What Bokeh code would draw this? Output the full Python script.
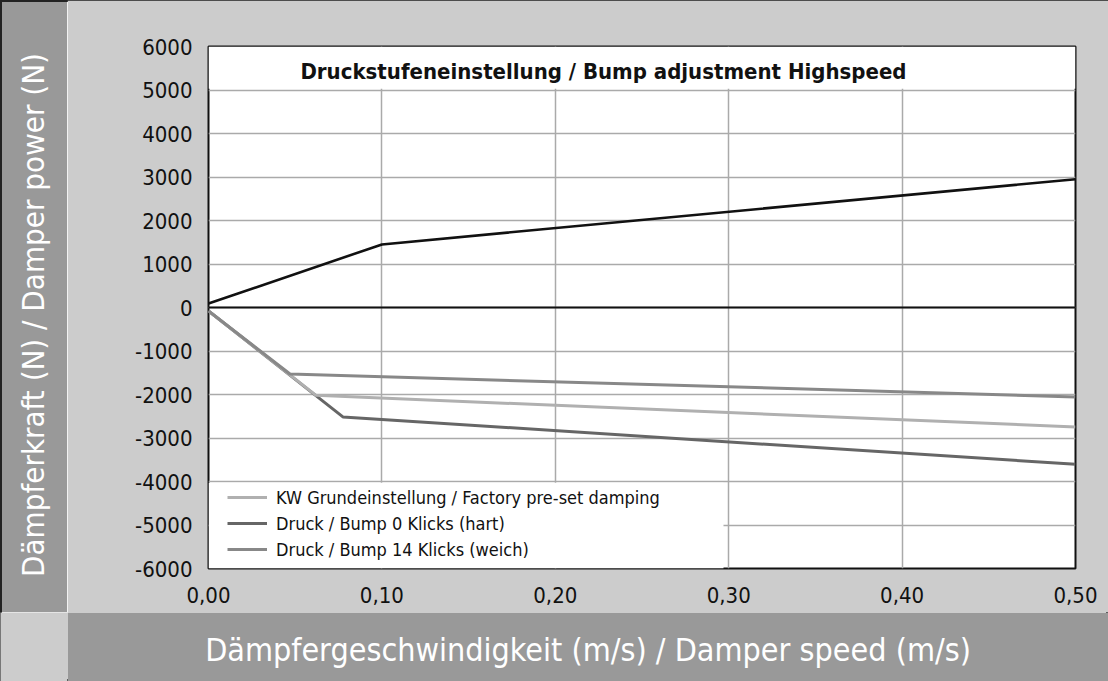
from bokeh.plotting import figure
from bokeh.layouts import column, row
from bokeh.models import (Range1d, FixedTicker, Legend, LegendItem, Label, Span,
                          BoxAnnotation, Div)
from bokeh.embed import file_html
from bokeh.resources import INLINE

# ---------------- data ----------------
title_text = "Druckstufeneinstellung / Bump adjustment Highspeed"
x_label = "Dämpfergeschwindigkeit (m/s) / Damper speed (m/s)"
y_label = "Dämpferkraft (N) / Damper power (N)"

x_ticks = [0.0, 0.1, 0.2, 0.3, 0.4, 0.5]
x_tick_labels = ["0,00", "0,10", "0,20", "0,30", "0,40", "0,50"]
y_ticks = [-6000, -5000, -4000, -3000, -2000, -1000, 0, 1000, 2000, 3000, 4000, 5000, 6000]
y_tick_labels = ["-6000", "-5000", "-4000", "-3000", "-2000", "-1000", "0",
                 "1000", "2000", "3000", "4000", "5000", "6000"]

top_speed = [0.0, 0.1, 0.5]
top_force = [90, 1450, 2950]

kw_label = "KW Grundeinstellung / Factory pre-set damping"
kw_speed = [0.0, 0.062, 0.5]
kw_force = [-80, -2020, -2745]

hart_label = "Druck / Bump 0 Klicks (hart)"
hart_speed = [0.0, 0.0775, 0.5]
hart_force = [-80, -2515, -3605]

weich_label = "Druck / Bump 14 Klicks (weich)"
weich_speed = [0.0, 0.047, 0.5]
weich_force = [-80, -1530, -2055]

# ---------------- style ----------------
FONT = "DejaVu Sans Condensed, Roboto, sans-serif"
LIGHT_BG = "#cccccc"
DARK_BG = "#999999"
EDGE = "#222222"

p = figure(width=1041, height=612, output_backend="svg", toolbar_location=None,
           x_range=Range1d(0, 0.5), y_range=Range1d(-6000, 6000))
p.min_border_left = 141
p.min_border_right = 33
p.min_border_top = 46
p.min_border_bottom = 44
p.border_fill_color = LIGHT_BG
p.background_fill_color = "white"
p.outline_line_color = "#111111"
p.outline_line_width = 2

for ax in (p.xaxis[0], p.yaxis[0]):
    ax.axis_line_color = None
    ax.major_tick_line_color = None
    ax.minor_tick_line_color = None
    ax.major_label_text_font = FONT
    ax.major_label_text_font_size = "22px"
    ax.major_label_text_color = "#111111"
p.xaxis[0].major_label_standoff = 12
p.yaxis[0].major_label_standoff = 10

p.xaxis[0].ticker = FixedTicker(ticks=x_ticks)
p.xaxis[0].major_label_overrides = {t: l for t, l in zip(x_ticks, x_tick_labels)}
p.yaxis[0].ticker = FixedTicker(ticks=y_ticks)
p.yaxis[0].major_label_overrides = {t: l for t, l in zip(y_ticks, y_tick_labels)}

p.xgrid[0].ticker = FixedTicker(ticks=x_ticks)
p.ygrid[0].ticker = FixedTicker(ticks=y_ticks)
for g in (p.xgrid[0], p.ygrid[0]):
    g.grid_line_color = "#aaaaaa"
    g.grid_line_width = 1.5

# white title band and legend background (cover grid)
p.add_layout(BoxAnnotation(bottom=5030, fill_color="white", fill_alpha=1,
                           line_color=None, level="underlay"))
p.add_layout(BoxAnnotation(top=-4030, right=0.297, fill_color="white", fill_alpha=1,
                           line_color=None, level="underlay"))

p.add_layout(Span(location=0, dimension="width", line_color="#111111", line_width=2.2))

p.line(top_speed, top_force, line_color="#111111", line_width=2.6)
r_hart = p.line(hart_speed, hart_force, line_color="#666666", line_width=3)
r_kw = p.line(kw_speed, kw_force, line_color="#b0b0b0", line_width=3)
r_weich = p.line(weich_speed, weich_force, line_color="#888888", line_width=3)

legend = Legend(items=[LegendItem(label=kw_label, renderers=[r_kw]),
                       LegendItem(label=hart_label, renderers=[r_hart]),
                       LegendItem(label=weich_label, renderers=[r_weich])],
                location=(19, 6), background_fill_alpha=0, border_line_alpha=0,
                label_text_font=FONT, label_text_font_size="18px",
                label_text_color="#111111", glyph_width=40, glyph_height=26,
                label_height=26, spacing=0, padding=0, margin=0, label_standoff=9)
p.add_layout(legend, "center")

p.add_layout(Label(x=0.053, y=5430, text=title_text, text_font=FONT,
                   text_font_style="bold", text_font_size="22px",
                   text_color="#111111", text_baseline="middle"))

left = Div(text=y_label, width=67, height=612, margin=0,
           styles={"background-color": DARK_BG, "color": "white",
                   "font-family": "'DejaVu Sans Condensed', Roboto, sans-serif",
                   "font-size": "31px", "writing-mode": "vertical-rl",
                   "transform": "rotate(180deg)", "text-align": "center",
                   "line-height": "67px", "white-space": "nowrap",
                   "overflow": "hidden", "box-sizing": "border-box",
                   "padding-bottom": "18px",
                   "box-shadow": "inset -2px -2px 0 0 " + EDGE})

corner = figure(width=67, height=69, output_backend="svg", toolbar_location=None,
                x_range=Range1d(0, 1), y_range=Range1d(0, 1))
bottom = figure(width=1041, height=69, output_backend="svg", toolbar_location=None,
                x_range=Range1d(0, 1), y_range=Range1d(0, 1))
for f, bg in ((corner, LIGHT_BG), (bottom, DARK_BG)):
    f.min_border = 0
    f.axis.visible = False
    f.grid.visible = False
    f.outline_line_color = None
    f.background_fill_color = bg
    f.border_fill_color = bg
bottom.add_layout(Label(x=0.5, y=0.45, text=x_label, text_font=FONT,
                        text_font_size="32px", text_color="white",
                        text_align="center", text_baseline="middle"))

layout = column(row(left, p, spacing=0), row(corner, bottom, spacing=0), spacing=0,
                styles={"outline": "2px solid " + EDGE, "outline-offset": "-2px"})

open("out.html", "w").write(file_html(layout, INLINE))
